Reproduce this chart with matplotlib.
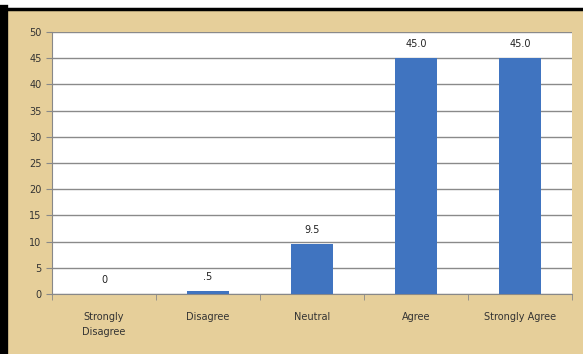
import numpy as np
import matplotlib.pyplot as plt
from matplotlib.patches import Rectangle

categories = ["Strongly\nDisagree", "Disagree", "Neutral", "Agree", "Strongly Agree"]
values = [0, 0.5, 9.5, 45.0, 45.0]
value_labels = ["0", ".5", "9.5", "45.0", "45.0"]
yticks = list(range(0, 55, 5))

fig = plt.figure(figsize=(5.83, 3.54), dpi=100)
fig.patch.set_facecolor("white")

# parchment panel with a dark frame on the top and left
fig.patches.append(Rectangle((8 / 583, 0), 1 - 8 / 583, 1 - 10 / 354,
                             transform=fig.transFigure, facecolor="#e6cf9a",
                             edgecolor="none", zorder=-10))
fig.add_artist(plt.Line2D([0, 1], [1 - 9 / 354, 1 - 9 / 354],
                          transform=fig.transFigure, color="black", lw=2.5, zorder=-5))
fig.add_artist(plt.Line2D([4 / 583, 4 / 583], [0, 1 - 9 / 354],
                          transform=fig.transFigure, color="black", lw=6, zorder=-5))

ax = fig.add_axes([52 / 583, 1 - 294 / 354, 520 / 583, 262 / 354])
ax.set_zorder(1)
ax.set_facecolor("white")

x = np.arange(len(categories))
ax.bar(x, values, width=0.4, color="#4074c0", zorder=3)
for xi, v, lab in zip(x, values, value_labels):
    ax.text(xi, v + 1.8, lab, ha="center", va="bottom", fontsize=7, color="#222222")

ax.set_xlim(-0.5, len(categories) - 0.5)
ax.set_ylim(0, 50)
ax.set_yticks(yticks)
ax.tick_params(axis="y", labelsize=7, colors="#333333", length=4, color="#888888")
ax.yaxis.grid(True, color="#8a8a8a", lw=1)
ax.set_axisbelow(True)

ax.set_xticks(x)
ax.set_xticklabels(categories, fontsize=7, color="#333333", linespacing=1.6)
ax.tick_params(axis="x", length=0, pad=13)
ax.set_xticks(np.arange(-0.5, len(categories)), minor=True)
ax.tick_params(axis="x", which="minor", length=4, color="#888888")

for side in ["top", "right"]:
    ax.spines[side].set_visible(False)
ax.spines["left"].set_color("#888888")
ax.spines["bottom"].set_color("#888888")

fig.savefig("out.png", dpi=100, facecolor=fig.get_facecolor())
